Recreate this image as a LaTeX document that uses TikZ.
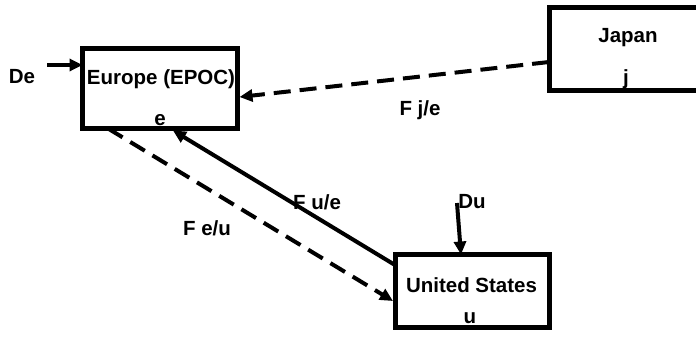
\documentclass[tikz,border=0pt]{standalone}
\usepackage{fontspec}
\setmainfont{Liberation Sans}
\usetikzlibrary{arrows.meta,calc}

\begin{document}
\begin{tikzpicture}[x=1pt,y=-1pt,
  region/.style={draw,line width=5pt,inner sep=0pt,outer sep=0pt},
  lbl/.style={font=\bfseries\fontsize{20.5}{24}\selectfont,inner sep=0pt,anchor=base},
  flow/.style={line width=4pt,-{Triangle[length=13pt,width=12pt]}},
  dashflow/.style={flow,dash pattern=on 17pt off 9pt}]
\useasboundingbox (0,0) rectangle (696,338);
\clip (0,0) rectangle (696,338);

% trading regions
\node[region,minimum width=155pt,minimum height=80pt] (eu) at (160,88.5) {};
\node[region,minimum width=154pt,minimum height=73pt] (us) at (472,291) {};
% Japan is open on the right: it runs off the edge
\node[inner sep=0pt,outer sep=0pt,minimum width=182pt,minimum height=82.5pt] (jp) at (640,48.75) {};
\draw[line width=5pt] (jp.north east) -- (jp.north west) -- (jp.south west) -- (jp.south east);

% region names and indices
\node[lbl] (eutxt) at (161,84) {Europe (EPOC)};
\node[lbl] (eui) at (160,125) {e};
\node[lbl] (jptxt) at (628,42) {Japan};
\node[lbl] (jpi) at (626,84) {j};
\node[lbl] (ustxt) at (471.5,292) {United States};
\node[lbl] (usi) at (470,323) {u};

% demand inputs
\node[lbl] (de) at (22,83) {De};
\node[lbl] (du) at (472,208) {Du};
\coordinate (deS) at (47,65);
\coordinate (duS) at (457,203);
\draw[flow] (deS) -- ($(eu.north west)+(0,16.5)$);
\draw[flow] (duS) -- ($(us.north west)+(66,0)$);

% flows between regions
\draw[dashflow] ($(jp.north west)+(0,54.5)$) -- ($(eu.north east)+(2,48.5)$);
\draw[flow] ($(us.north west)+(0,10.5)$) -- ($(eu.south west)+(90.5,2)$);
\draw[dashflow] ($(eu.south west)+(25.5,0)$) -- ($(us.north west)+(-2,46.5)$);

% flow labels
\node[lbl] (fje) at (420,115) {F j/e};
\node[lbl] (fue) at (317,209) {F u/e};
\node[lbl] (feu) at (207,235) {F e/u};
\end{tikzpicture}
\end{document}
